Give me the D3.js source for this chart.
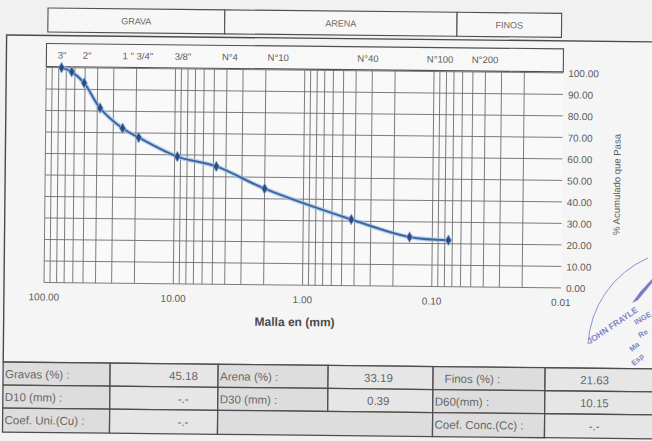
<!DOCTYPE html>
<html>
<head>
<meta charset="utf-8">
<script src="https://cdn.jsdelivr.net/npm/d3@7"></script>
<style>
  html, body { margin: 0; padding: 0; background: #f1f1f1; }
  svg { display: block; font-family: "Liberation Sans", Arial, sans-serif; }
</style>
</head>
<body>
<div id="chart"></div>
<script>
// abertura de tamiz (mm) y % acumulado que pasa
const sieveMm = [76.2, 63.5, 50.8, 38.1, 25.4, 19.05, 9.525, 4.75, 2.0, 0.425, 0.15, 0.075];
const passing = [100, 98.1, 93.0, 81.4, 72.1, 67.9, 59.2, 54.82, 44.7, 30.8, 22.9, 21.63];

const sieveLabels = ['3"', '2"', '1 " 3/4"', '3/8"', 'N°4', 'N°10', 'N°40', 'N°100', 'N°200'];
const sieveLabelAt = [75.7, 48.5, 19.6, 8.78, 3.8, 1.61, 0.325, 0.09, 0.0404];

const xTickValues = [100, 10, 1, 0.1, 0.01];
const yTickValues = [0, 10, 20, 30, 40, 50, 60, 70, 80, 90, 100];

const zoneNames = ["GRAVA", "ARENA", "FINOS"];
const zoneBounds = [98, 4.2, 0.067, 0.0104];

const tableRows = [
  ["Gravas (%) :", "45.18", "Arena (%) :", "33.19", "   Finos (%) :", "21.63"],
  ["D10 (mm) :", "-.-", "D30 (mm) :", "0.39", "D60(mm) :", "10.15"],
  ["Coef. Uni.(Cu) :", "-.-", "", "", "Coef. Conc.(Cc) :", "-.-"]
];

const W = 652, H = 441;
const svg = d3.select("#chart").append("svg")
  .attr("width", W)
  .attr("height", H);

svg.append("rect").attr("width", W).attr("height", H).attr("fill", "#f1f1f1");

// la hoja escaneada esta un poco girada
const g = svg.append("g").attr("transform", "rotate(0.6)");

const x = d3.scaleLog().domain([100, 0.01]).range([47, 564]);
const y = d3.scaleLinear().domain([0, 100]).range([282, 67]);

// marco general
g.append("rect")
  .attr("x", 7).attr("y", 35)
  .attr("width", 720).attr("height", 327)
  .attr("fill", "#f5f5f5")
  .attr("stroke", "#4a4a4a")
  .attr("stroke-width", 1.4);

// cabecera GRAVA / ARENA / FINOS
const zones = g.append("g");
zoneNames.forEach((name, i) => {
  const x0 = x(zoneBounds[i]), x1 = x(zoneBounds[i + 1]);
  zones.append("rect")
    .attr("x", x0).attr("y", 7.5)
    .attr("width", x1 - x0).attr("height", 24)
    .attr("fill", "#f7f7f7")
    .attr("stroke", "#4f4f4f")
    .attr("stroke-width", 1.1);
  zones.append("text")
    .attr("x", (x0 + x1) / 2).attr("y", 23)
    .attr("text-anchor", "middle")
    .style("font-size", "9px")
    .style("fill", "#6a6a6a")
    .text(name);
});

// caja de tamices
g.append("rect")
  .attr("x", x(100)).attr("y", 43)
  .attr("width", x(0.01) - x(100)).attr("height", 23)
  .attr("fill", "#f8f8f8")
  .attr("stroke", "#4f4f4f")
  .attr("stroke-width", 1.1);

g.selectAll(".sieve-label")
  .data(sieveLabels)
  .enter()
  .append("text")
  .attr("class", "sieve-label")
  .attr("x", (d, i) => x(sieveLabelAt[i]))
  .attr("y", 58)
  .attr("text-anchor", "middle")
  .style("font-size", "9.5px")
  .style("fill", "#5e5e5e")
  .text(d => d);

// area del grafico
g.append("rect")
  .attr("x", x(100)).attr("y", y(100))
  .attr("width", x(0.01) - x(100)).attr("height", y(0) - y(100))
  .attr("fill", "#f9f9f9");

// rejilla
const grid = g.append("g");
grid.selectAll(".vline")
  .data(x.ticks().filter(d => d > 0.0101))
  .enter()
  .append("line")
  .attr("class", "vline")
  .attr("x1", d => x(d)).attr("x2", d => x(d))
  .attr("y1", y(100)).attr("y2", y(0))
  .style("stroke", "#6e6e6e")
  .style("stroke-width", 0.9);

grid.selectAll(".hline")
  .data(yTickValues)
  .enter()
  .append("line")
  .attr("class", "hline")
  .attr("x1", x(100)).attr("x2", x(0.01))
  .attr("y1", d => y(d)).attr("y2", d => y(d))
  .style("stroke", "#6e6e6e")
  .style("stroke-width", 0.9);

// curva granulometrica
const points = sieveMm.map((d, i) => [x(d), y(passing[i])]);
const line = d3.line().curve(d3.curveCatmullRom.alpha(0.5));

g.append("path")
  .attr("d", line(points))
  .attr("fill", "none")
  .attr("stroke", "#9fc3ec")
  .attr("stroke-width", 4.5)
  .attr("stroke-opacity", 0.7);
g.append("path")
  .attr("d", line(points))
  .attr("fill", "none")
  .attr("stroke", "#3f669c")
  .attr("stroke-width", 2);

g.selectAll(".marker")
  .data(points)
  .enter()
  .append("path")
  .attr("class", "marker")
  .attr("transform", d => `translate(${d[0]},${d[1]})`)
  .attr("d", d3.symbol().type(d3.symbolDiamond).size(34))
  .attr("fill", "#2f4c7e")
  .attr("stroke", "#8fb4e4")
  .attr("stroke-width", 0.8);

// etiquetas eje Y
g.selectAll(".ylab")
  .data(yTickValues)
  .enter()
  .append("text")
  .attr("class", "ylab")
  .attr("x", 569)
  .attr("y", d => y(d) + 4)
  .style("font-size", "10px")
  .style("fill", "#5a5a5a")
  .text(d => d3.format(".2f")(d));

g.append("text")
  .attr("transform", "translate(622,178) rotate(-90)")
  .attr("text-anchor", "middle")
  .style("font-size", "9.5px")
  .style("fill", "#5a5a5a")
  .text("% Acumulado que Pasa");

// etiquetas eje X
g.selectAll(".xlab")
  .data(xTickValues)
  .enter()
  .append("text")
  .attr("class", "xlab")
  .attr("x", d => x(d))
  .attr("y", 300)
  .attr("text-anchor", "middle")
  .style("font-size", "10px")
  .style("fill", "#5a5a5a")
  .text(d => d3.format(".2f")(d));

g.append("text")
  .attr("x", 298).attr("y", 323)
  .attr("text-anchor", "middle")
  .style("font-size", "12px")
  .style("font-weight", "bold")
  .style("fill", "#4a4a4a")
  .text("Malla en (mm)");

// tabla de resultados
const rowY = [362, 385, 408, 432];
const colX = [7, 114, 222, 332, 437, 549, 720];
const valueAt = [0, 0.68, 0, 0.48, 0, 0.29];
const table = g.append("g");
tableRows.forEach((row, r) => {
  row.forEach((cell, c) => {
    if (r === 2 && c === 3) return;
    const x0 = colX[c];
    const x1 = (r === 2 && c === 2) ? colX[4] : colX[c + 1];
    const isLabel = c % 2 === 0;
    table.append("rect")
      .attr("x", x0).attr("y", rowY[r])
      .attr("width", x1 - x0).attr("height", rowY[r + 1] - rowY[r])
      .attr("fill", isLabel ? "#dddddd" : "#e6e6e6")
      .attr("stroke", "#4d4d4d")
      .attr("stroke-width", 1.3);
    if (!cell) return;
    table.append("text")
      .attr("x", isLabel ? x0 + 2 : x0 + (x1 - x0) * valueAt[c])
      .attr("y", rowY[r] + 16)
      .attr("text-anchor", isLabel ? "start" : "middle")
      .attr("xml:space", "preserve")
      .style("white-space", "pre")
      .style("font-size", "11.5px")
      .style("fill", "#676767")
      .text(cell);
  });
});

// sello (parcial)
const stamp = svg.append("g").attr("opacity", 0.75);
stamp.append("path")
  .attr("d", "M588,344 A100,100 0 0,1 648,258")
  .attr("fill", "none")
  .attr("stroke", "#6a70c0")
  .attr("stroke-width", 1);
stamp.append("path")
  .attr("d", "M652,283 L638,300 L632,303 L640,292 L652,279 Z")
  .attr("fill", "#4f55b8");
stamp.append("text")
  .attr("transform", "translate(614,328) rotate(-34)")
  .attr("text-anchor", "middle")
  .style("font-size", "8.5px")
  .style("font-weight", "bold")
  .style("fill", "#5a60b6")
  .text("JOHN FRAYLE");
stamp.append("text")
  .attr("transform", "translate(636,325) rotate(-30)")
  .style("font-size", "7.5px")
  .style("font-weight", "bold")
  .style("fill", "#5a60b6")
  .text("INGE");
stamp.append("text")
  .attr("transform", "translate(640,338) rotate(-30)")
  .style("font-size", "7.5px")
  .style("font-weight", "bold")
  .style("fill", "#5a60b6")
  .text("Re");
stamp.append("text")
  .attr("transform", "translate(632,352) rotate(-40)")
  .style("font-size", "7.5px")
  .style("font-weight", "bold")
  .style("fill", "#5a60b6")
  .text("Ma");
stamp.append("text")
  .attr("transform", "translate(634,366) rotate(-40)")
  .style("font-size", "7.5px")
  .style("font-weight", "bold")
  .style("fill", "#5a60b6")
  .text("Esp");
</script>
</body>
</html>
